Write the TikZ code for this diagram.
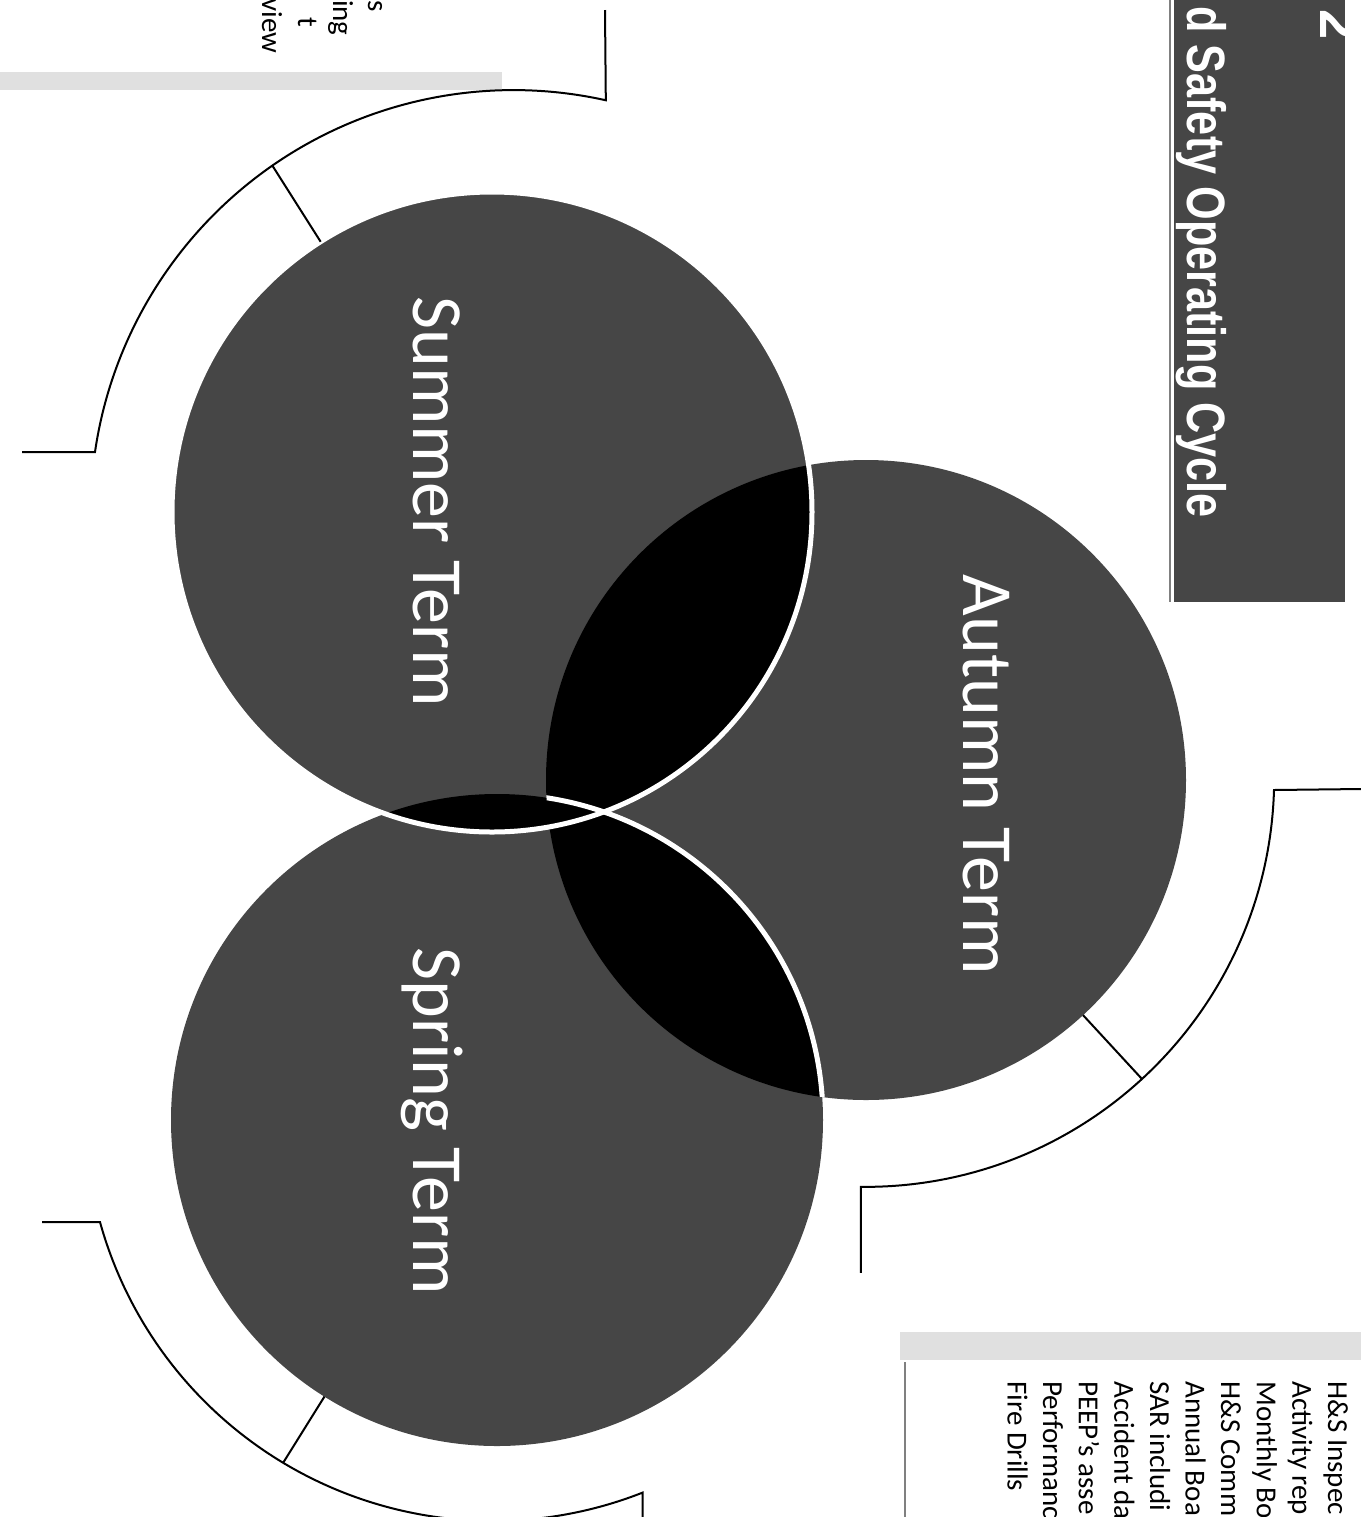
\documentclass[tikz,border=0pt]{standalone}
\usepackage{fontspec}
\setmainfont{Carlito}
\newfontfamily\titlefont{Liberation Sans}
\definecolor{venngray}{HTML}{464646}
\definecolor{scangray}{HTML}{E0E0E0}
\begin{document}
\begin{tikzpicture}[x=0.5pt,y=-0.5pt,
  term/.style={circle, fill=venngray, minimum size=#1, inner sep=0pt, outer sep=0pt},
  termtext/.style={text=white, font=\fontsize{36}{40}\selectfont, rotate=-90, anchor=base, inner sep=0pt},
  bracket/.style={draw=black, line width=1pt},
  boxtext/.style={font=\fontsize{14.5}{17}\selectfont, rotate=-90, anchor=base west, inner sep=0pt},
  cuttext/.style={font=\fontsize{14.5}{17}\selectfont, rotate=-90, anchor=base east, inner sep=0pt},
  titletext/.style={text=white, font=\titlefont\bfseries\fontsize{27}{30}\selectfont, rotate=-90, inner sep=0pt},
  whiteedge/.style={draw=white, line width=2.5pt}
]
\useasboundingbox (0,0) rectangle (1361,1517);
\clip (0,0) rectangle (1361,1517);
\fill[white] (0,0) rectangle (1361,1517);

% scan bands
\fill[scangray] (0,72) rectangle (502,90);
\fill[scangray] (900,1332) rectangle (1361,1360);
\draw[gray, line width=0.8pt] (905,1362) -- (905,1517);

% title bar
\fill[venngray] (1174,0) rectangle (1345,602);
\draw[gray, line width=0.8pt] (1170,0) -- (1170,602);
\node[titletext, anchor=base west] (title) at (1187,6) {\scalebox{0.8}[1]{d Safety Operating Cycle}};
\node[titletext, anchor=base east] (fignum) at (1320,40) {2};

% circles
\node[term=320pt] (autumn) at (866,780) {};
\node[term=326pt] (spring) at (497,1120) {};
\node[term=320pt] (summer) at (492,512) {};

\begin{scope}
  \clip (summer.center) circle[radius=160pt];
  \fill[black] (autumn.center) circle[radius=160pt];
  \fill[black] (spring.center) circle[radius=163pt];
\end{scope}
\begin{scope}
  \clip (autumn.center) circle[radius=160pt];
  \fill[black] (spring.center) circle[radius=163pt];
  \draw[whiteedge] (spring.center) circle[radius=163pt];
\end{scope}
\draw[whiteedge] (summer.center) circle[radius=160pt];

\node[termtext] (summerlabel) at (413,502) {Summer Term};
\node[termtext] (autumnlabel) at (963,775) {Autumn Term};
\node[termtext] (springlabel) at (413,1121) {Spring Term};

% brackets
\draw[bracket] (22,452) -- (95,452) arc[start angle=171.7, end angle=77.4, radius=211.5pt] -- (605,10);
\draw[bracket] (1361,789) -- (1274,790) arc[start angle=-1.7, end angle=-90.6, radius=204.5pt] -- ++(0,86);
\draw[bracket] (42,1222) -- (100,1222) arc[start angle=-164.5, end angle=-68.5, radius=204pt] -- ++(0,30);

\coordinate (summertick) at (272,165);
\coordinate (autumntick) at (1142,1079);
\coordinate (springtick) at (283,1463);
\draw[bracket] (summertick) -- (summer);
\draw[bracket] (autumntick) -- (autumn);
\draw[bracket] (springtick) -- (spring);

% right text box
\node[boxtext] (l1) at (1328,1381) {H\&S Inspec};
\node[boxtext] (l2) at (1292.4,1381) {Activity rep};
\node[boxtext] (l3) at (1256.8,1381) {Monthly Bo};
\node[boxtext] (l4) at (1221.2,1381) {H\&S Comm};
\node[boxtext] (l5) at (1185.6,1381) {Annual Boa};
\node[boxtext] (l6) at (1150,1381) {SAR includi};
\node[boxtext] (l7) at (1114.4,1381) {Accident da};
\node[boxtext] (l8) at (1078.8,1381) {PEEP’s asse};
\node[boxtext] (l9) at (1043.2,1381) {Performanc};
\node[boxtext] (l10) at (1007.6,1381) {Fire Drills};

% top-left fragments
\node[cuttext] (t1) at (368,12) {s};
\node[cuttext] (t2) at (333,36) {ing};
\node[cuttext] (t3) at (298,28) {t};
\node[cuttext] (t4) at (262,54) {view};
\end{tikzpicture}
\end{document}
